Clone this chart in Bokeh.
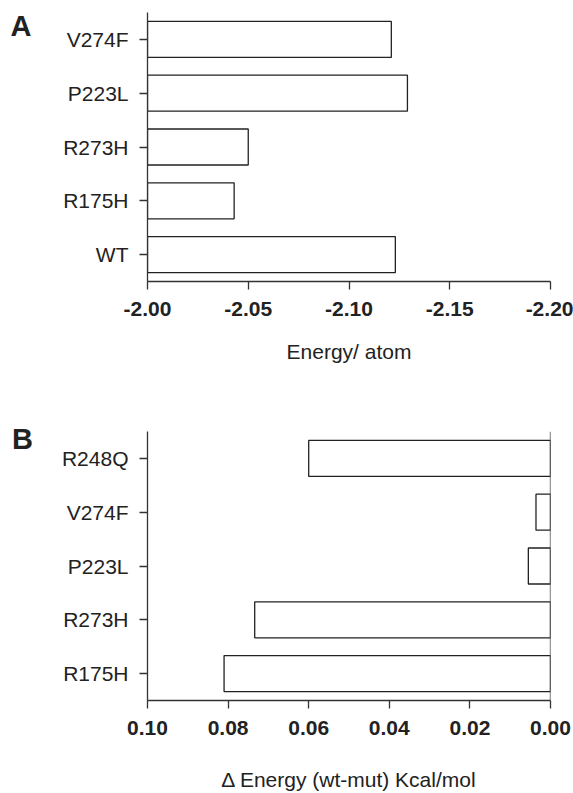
from bokeh.plotting import figure
from bokeh.layouts import column
from bokeh.models import Range1d, FactorRange, FixedTicker, PrintfTickFormatter, Span, Label
from bokeh.embed import file_html
from bokeh.resources import INLINE

# ---- data ----
a_categories = ["WT", "R175H", "R273H", "P223L", "V274F"]
a_energy = [-2.123, -2.043, -2.050, -2.129, -2.121]
a_ticks = [-2.00, -2.05, -2.10, -2.15, -2.20]
a_xlabel = "Energy/ atom"

b_categories = ["R175H", "R273H", "P223L", "V274F", "R248Q"]
b_delta = [0.081, 0.0734, 0.0055, 0.0036, 0.060]
b_ticks = [0.10, 0.08, 0.06, 0.04, 0.02, 0.00]
b_xlabel = "\u0394 Energy (wt-mut) Kcal/mol"

FONT = "Liberation Sans"
TXT = "#222222"
AX = "#333333"


def style(p):
    p.outline_line_color = None
    p.xgrid.grid_line_color = None
    p.ygrid.grid_line_color = None
    p.background_fill_color = "white"
    p.border_fill_color = "white"
    for ax in (p.xaxis[0], p.yaxis[0]):
        ax.axis_line_color = AX
        ax.axis_line_width = 1.3
        ax.major_tick_line_color = AX
        ax.major_tick_line_width = 1.3
        ax.major_tick_out = 8
        ax.major_tick_in = 0
        ax.minor_tick_line_color = None
        ax.major_label_text_font = FONT
        ax.major_label_text_color = TXT
        ax.major_label_text_font_size = "21px"
        ax.axis_label_text_font = FONT
        ax.axis_label_text_color = TXT
        ax.axis_label_text_font_size = "21px"
        ax.axis_label_text_font_style = "normal"
    p.xaxis[0].major_label_text_font_style = "bold"
    p.xaxis[0].major_label_standoff = 12
    p.yaxis[0].major_label_standoff = 11


# ---- panel A ----
pA = figure(
    y_range=FactorRange(factors=a_categories),
    x_range=Range1d(a_ticks[0], a_ticks[-1]),
    frame_width=403, frame_height=269,
    min_border_left=147, min_border_right=23,
    min_border_top=12, min_border_bottom=85,
    output_backend="svg", toolbar_location=None,
)
pA.hbar(y=a_categories, left=a_ticks[0], right=a_energy, height=0.67,
        fill_color="white", line_color="#222222", line_width=1.3)
style(pA)
pA.xaxis[0].ticker = FixedTicker(ticks=a_ticks)
pA.xaxis[0].formatter = PrintfTickFormatter(format="%.2f")
pA.xaxis[0].axis_label = a_xlabel
pA.xaxis[0].axis_label_standoff = 21
pA.add_layout(Label(x=-1.932, y=4.751, text="A", text_font=FONT,
                    text_font_size="29px", text_font_style="bold",
                    text_color=TXT, text_align="left",
                    text_baseline="alphabetic"), "left")

# ---- panel B ----
pB = figure(
    y_range=FactorRange(factors=b_categories),
    x_range=Range1d(b_ticks[0], b_ticks[-1]),
    frame_width=403, frame_height=269,
    min_border_left=147, min_border_right=23,
    min_border_top=65, min_border_bottom=93,
    output_backend="svg", toolbar_location=None,
)
pB.hbar(y=b_categories, left=0, right=b_delta, height=0.67,
        fill_color="white", line_color="#222222", line_width=1.3)
style(pB)
pB.xaxis[0].ticker = FixedTicker(ticks=b_ticks)
pB.xaxis[0].formatter = PrintfTickFormatter(format="%.2f")
pB.xaxis[0].axis_label = b_xlabel
pB.xaxis[0].axis_label_standoff = 30
pB.add_layout(Span(location=0, dimension="height", line_color=AX, line_width=1.3))
pB.add_layout(Label(x=0.1336, y=4.855, text="B", text_font=FONT,
                    text_font_size="29px", text_font_style="bold",
                    text_color=TXT, text_align="left",
                    text_baseline="alphabetic"), "left")

layout = column(pA, pB)
open("out.html", "w").write(file_html(layout, INLINE))
